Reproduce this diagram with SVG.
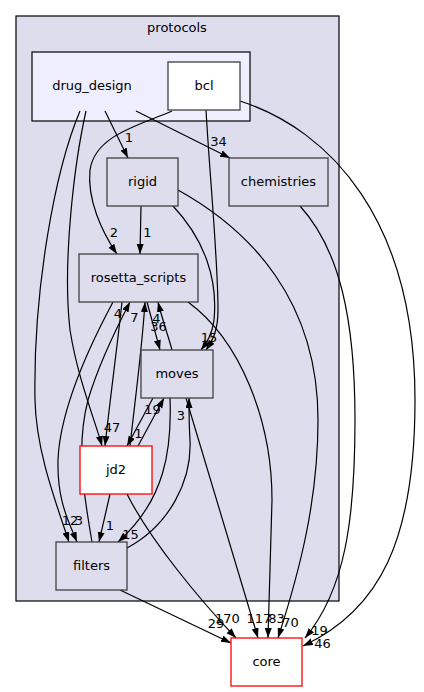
<svg xmlns="http://www.w3.org/2000/svg" width="424" height="692" viewBox="0 0 424 692">
<style>
text{font-family:"DejaVu Sans","Noto Sans",sans-serif;fill:#000}
.nl{font-size:13px;text-anchor:middle}
.el{font-size:13px;text-anchor:middle}
.n{fill:#ddddee;stroke:#404040;stroke-width:1.3}
.w{fill:#ffffff;stroke:#404040;stroke-width:1.3}
.r{fill:#ffffff;stroke:#ff0000;stroke-width:1.3}
.e{fill:none;stroke:#000;stroke-width:1.2;marker-end:url(#ah)}
</style>
<defs>
<marker id="ah" markerUnits="userSpaceOnUse" markerWidth="11" markerHeight="8" refX="10" refY="3.5" orient="auto">
<path d="M0,0 L10,3.5 L0,7 z" fill="#000"/>
</marker>
</defs>
<rect width="424" height="692" fill="#fff"/>
<g id="cluster_protocols">
<rect x="16" y="16" width="323" height="585" fill="#ddddee" stroke="#000" stroke-width="1.2"/>
<text class="nl" x="177" y="32">protocols</text>
</g>
<g id="cluster_drug_design">
<rect x="32" y="52" width="218" height="69" fill="#eeeeff" stroke="#000" stroke-width="1.2"/>
<text class="nl" x="92" y="90">drug_design</text>
</g>
<g id="edges">
<path class="e" d="M105,111 L128,158"/>
<path class="e" d="M136,111 L230,158"/>
<path class="e" d="M80,111 C55,170 33,290 35,400 C36,450 55,500 69,542"/>
<path class="e" d="M86,111 C75,160 62,260 70,330 C78,380 95,420 102,446"/>
<path class="e" d="M172,111 C140,125 95,135 90,170 C87,200 102,232 117,254"/>
<path class="e" d="M206,110 C210,180 218,260 218,310 C218,330 213,340 206,350"/>
<path class="e" d="M240,101 C330,130 415,220 415,400 C415,540 380,610 303,646"/>
<path class="e" d="M141,206 L140,254"/>
<path class="e" d="M173,206 C205,240 218,280 214,320 C212,335 207,342 201,350"/>
<path class="e" d="M178,190 C250,230 318,300 318,420 C318,500 300,570 278,638"/>
<path class="e" d="M300,206 C340,250 355,320 355,420 C355,520 345,590 305,638"/>
<path class="e" d="M147,302 L160,350"/>
<path class="e" d="M172,350 C168,335 163,322 158,302"/>
<path class="e" d="M122,302 C118,340 110,400 105,446"/>
<path class="e" d="M130,446 C135,400 142,350 145,302"/>
<path class="e" d="M113,302 C90,345 60,410 58,460 C57,500 68,520 77,542"/>
<path class="e" d="M92,542 C85,500 75,450 88,400 C100,360 118,325 130,302"/>
<path class="e" d="M188,302 C240,340 272,420 272,500 L268,638"/>
<path class="e" d="M153,398 L127,446"/>
<path class="e" d="M138,446 L164,398"/>
<path class="e" d="M170,398 C172,450 165,500 118,542"/>
<path class="e" d="M127,548 C170,525 192,480 190,440 C189,425 189,412 189,398"/>
<path class="e" d="M186,398 L258,638"/>
<path class="e" d="M110,494 L99,542"/>
<path class="e" d="M127,494 C150,540 200,600 236,638"/>
<path class="e" d="M120,590 L231,643"/>
<text class="el" x="129" y="142">1</text>
<text class="el" x="218.5" y="146">34</text>
<text class="el" x="114" y="237">2</text>
<text class="el" x="147.5" y="237">1</text>
<text class="el" x="118" y="318">4</text>
<text class="el" x="134.5" y="322">7</text>
<text class="el" x="156.5" y="323">4</text>
<text class="el" x="158.5" y="331">36</text>
<text class="el" x="209" y="342">15</text>
<text class="el" x="112" y="432">47</text>
<text class="el" x="138.5" y="438">1</text>
<text class="el" x="152.5" y="414">19</text>
<text class="el" x="181" y="420">3</text>
<text class="el" x="70" y="525">12</text>
<text class="el" x="79" y="525">3</text>
<text class="el" x="110" y="530">1</text>
<text class="el" x="130.5" y="539">15</text>
<text class="el" x="216" y="628">29</text>
<text class="el" x="227.5" y="623">170</text>
<text class="el" x="259" y="623">117</text>
<text class="el" x="276.5" y="623">83</text>
<text class="el" x="290.5" y="627">70</text>
<text class="el" x="319.5" y="635">19</text>
<text class="el" x="322.5" y="648">46</text>
</g>
<g id="bcl"><rect class="w" x="168" y="62" width="72" height="48"/><text class="nl" x="204" y="90">bcl</text></g>
<g id="rigid"><rect class="n" x="107" y="158" width="71" height="48"/><text class="nl" x="142.5" y="186">rigid</text></g>
<g id="chemistries"><rect class="n" x="229" y="158" width="99" height="48"/><text class="nl" x="278.5" y="186">chemistries</text></g>
<g id="rosetta_scripts"><rect class="n" x="79" y="254" width="119" height="48"/><text class="nl" x="138.5" y="282">rosetta_scripts</text></g>
<g id="moves"><rect class="n" x="141" y="350" width="72" height="48"/><text class="nl" x="177" y="378">moves</text></g>
<g id="jd2"><rect class="r" x="80" y="446" width="72" height="48"/><text class="nl" x="116" y="474">jd2</text></g>
<g id="filters"><rect class="n" x="56" y="542" width="71" height="48"/><text class="nl" x="91.5" y="570">filters</text></g>
<g id="core"><rect class="r" x="231" y="638" width="71" height="48"/><text class="nl" x="266.5" y="666">core</text></g>
</svg>
